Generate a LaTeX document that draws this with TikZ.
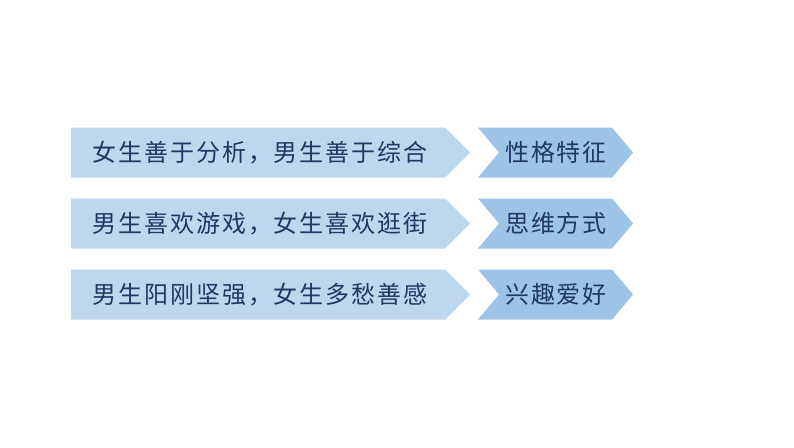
\documentclass[tikz,border=0pt]{standalone}
\usepackage{fontspec}
\newfontfamily\cjk[LetterSpace=8]{Noto Sans CJK SC}
\definecolor{lightbox}{HTML}{BDD7EE}
\definecolor{darkbox}{HTML}{9DC3E6}
\definecolor{txt}{HTML}{1F3864}
\begin{document}
\begin{tikzpicture}[x=1pt,y=-1pt,
  lbl/.style={font=\cjk\fontsize{24}{28}\selectfont, text=txt, inner sep=0pt, anchor=center}]
\useasboundingbox[fill=white] (0,0) rectangle (794,447);
\foreach \i/\ta/\tb in {0/女生善于分析，男生善于综合/性格特征,1/男生喜欢游戏，女生喜欢逛街/思维方式,2/男生阳刚坚强，女生多愁善感/兴趣爱好}{
  \pgfmathsetmacro{\t}{127.5+71*\i}
  \pgfmathsetmacro{\b}{\t+50}
  \pgfmathsetmacro{\m}{\t+25}
  \fill[lightbox] (71,\t) -- (445,\t) -- (470,\m) -- (445,\b) -- (71,\b) -- cycle;
  \fill[darkbox] (478,\t) -- (612,\t) -- (633,\m) -- (612,\b) -- (478,\b) -- (499,\m) -- cycle;
  \node[lbl] (a\i) at (260,\m) {\ta};
  \node[lbl] (b\i) at (556,\m) {\tb};
}
\end{tikzpicture}
\end{document}
